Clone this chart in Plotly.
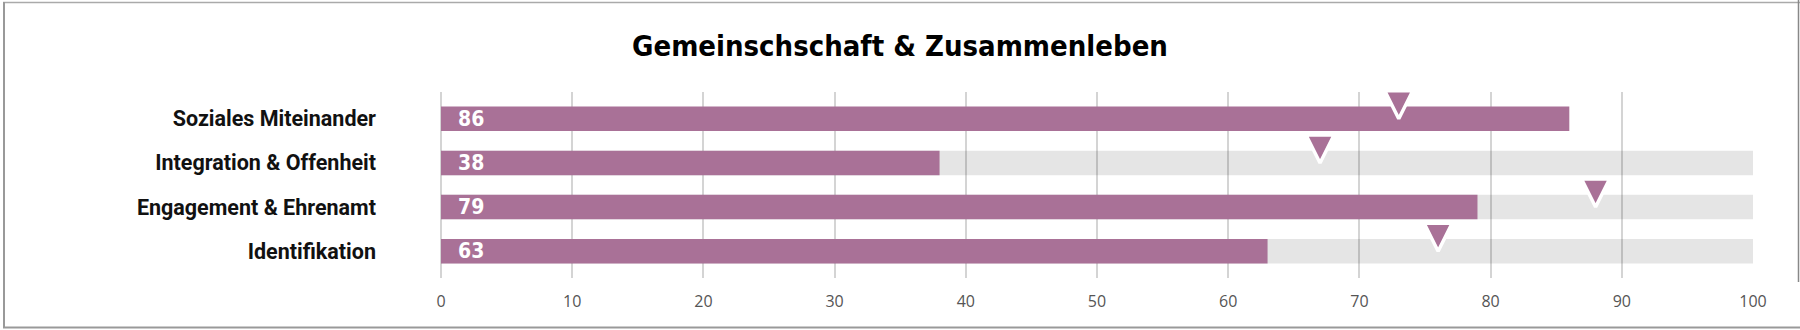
import plotly.graph_objects as go

categories = ["Soziales Miteinander", "Integration & Offenheit", "Engagement & Ehrenamt", "Identifikation"]
values = [86, 38, 79, 63]
background = [None, 100, 100, 100]
targets = [73, 67, 88, 76]
x_ticks = [0, 10, 20, 30, 40, 50, 60, 70, 80, 90, 100]
title_text = "Gemeinschschaft & Zusammenleben"

PURPLE = "#a97197"
COND = "DejaVu Sans Condensed, sans-serif"
LABEL = "Roboto, sans-serif"

W, H = 1800, 330
L, R, T, B = 441, 47, 92, 52
pw, ph = W - L - R, H - T - B

def px(x):
    return (x - L) / pw

def py(y):
    return (H - B - y) / ph

fig = go.Figure()
fig.add_trace(go.Bar(
    y=categories, x=background, orientation="h",
    marker=dict(color="rgba(0,0,0,0.10)", line=dict(width=0)),
    hoverinfo="skip", showlegend=False,
))
fig.add_trace(go.Bar(
    y=categories, x=values, orientation="h",
    marker=dict(color=PURPLE, line=dict(width=0)),
    showlegend=False,
))
fig.add_trace(go.Scatter(
    y=categories, x=targets, mode="markers",
    marker=dict(symbol="arrow-down", size=28, color=PURPLE,
                line=dict(color="white", width=3.5)),
    showlegend=False,
))

for cat, v in zip(categories, values):
    fig.add_annotation(
        x=0, y=cat, xref="x", yref="y", text=str(v), showarrow=False,
        xanchor="left", yanchor="middle", xshift=15,
        font=dict(family=COND, size=21, color="white", weight="bold"),
    )

frame = dict(color="#999999", width=2)
fig.add_shape(type="line", xref="paper", yref="paper", x0=px(3), x1=px(1800), y0=py(2.5), y1=py(2.5), line=dict(color="#aaaaaa", width=1.5))
fig.add_shape(type="line", xref="paper", yref="paper", x0=px(4), x1=px(4), y0=py(2), y1=py(328), line=frame)
fig.add_shape(type="line", xref="paper", yref="paper", x0=px(3), x1=px(1800), y0=py(327.5), y1=py(327.5), line=frame)
fig.add_shape(type="line", xref="paper", yref="paper", x0=px(1798.5), x1=px(1798.5), y0=py(0), y1=py(282), line=dict(color="#888888", width=1.5))

fig.update_layout(
    width=W, height=H,
    margin=dict(l=L, r=R, t=T, b=B, pad=0),
    paper_bgcolor="white", plot_bgcolor="white",
    barmode="overlay", bargap=0.447,
    title=dict(text=title_text, x=0.5, xref="container", xanchor="center",
               y=1 - 46 / H, yref="container", yanchor="middle",
               font=dict(family=COND, size=29, color="black", weight="bold")),
    xaxis=dict(range=[0, 100], tickvals=x_ticks, showgrid=True, gridcolor="#d4d4d4", gridwidth=2,
               zeroline=True, zerolinecolor="#d4d4d4", zerolinewidth=2, showline=False,
               tickfont=dict(family="Open Sans, Noto Sans, sans-serif", size=16, color="#555555"),
               ticks="", ticklabelstandoff=12, fixedrange=True),
    yaxis=dict(autorange="reversed", showgrid=False, zeroline=False, showline=False, ticks="",
               tickfont=dict(family=LABEL, size=21.5, color="#111111", weight="bold"),
               ticklabelstandoff=64, fixedrange=True),
    hovermode=False,
)

fig.write_html("out.html")
